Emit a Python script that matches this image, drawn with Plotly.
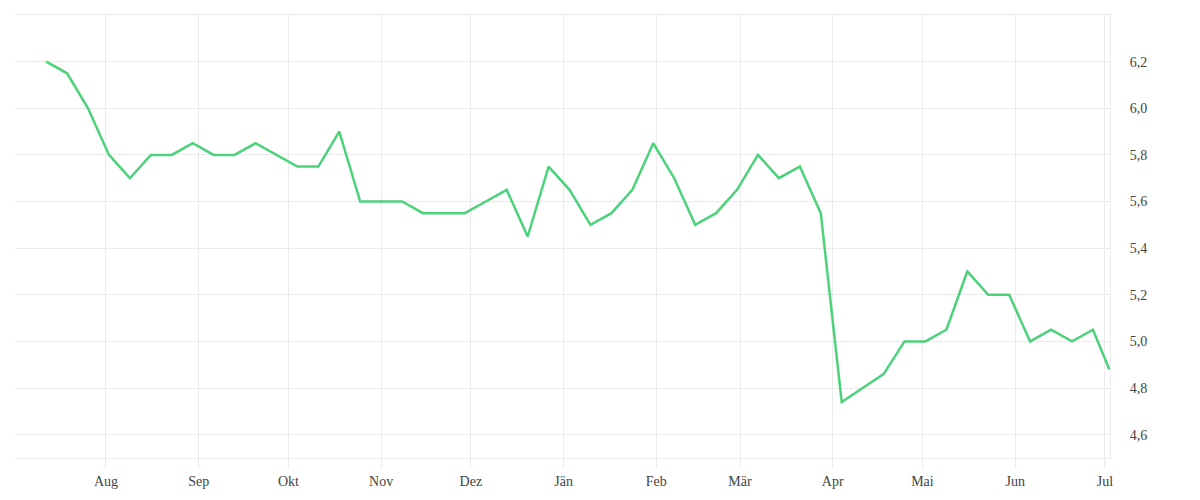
import plotly.graph_objects as go
import pandas as pd

# Weekly observations
start_date = "2022-07-12"
weekly_values = [
    6.2, 6.15, 6.0, 5.8, 5.7, 5.8, 5.8, 5.85, 5.8, 5.8,
    5.85, 5.8, 5.75, 5.75, 5.9, 5.6, 5.6, 5.6, 5.55, 5.55,
    5.55, 5.6, 5.65, 5.45, 5.75, 5.65, 5.5, 5.55, 5.65, 5.85,
    5.7, 5.5, 5.55, 5.65, 5.8, 5.7, 5.75, 5.55, 4.74, 4.8,
    4.86, 5.0, 5.0, 5.05, 5.3, 5.2, 5.2, 5.0, 5.05, 5.0,
    5.05,
]
last_date = "2023-07-02 12:00"
last_value = 4.88

month_ticks = ["2022-08-01", "2022-09-01", "2022-10-01", "2022-11-01", "2022-12-01",
               "2023-01-01", "2023-02-01", "2023-03-01", "2023-04-01", "2023-05-01",
               "2023-06-01", "2023-07-01"]
month_labels = ["Aug", "Sep", "Okt", "Nov", "Dez", "Jän", "Feb", "Mär", "Apr", "Mai", "Jun", "Jul"]

y_ticks = [4.6, 4.8, 5.0, 5.2, 5.4, 5.6, 5.8, 6.0, 6.2]
y_labels = ["4,6", "4,8", "5,0", "5,2", "5,4", "5,6", "5,8", "6,0", "6,2"]

dates = list(pd.date_range(start_date, periods=len(weekly_values), freq="7D")) + [pd.Timestamp(last_date)]
values = weekly_values + [last_value]

grid = "#ebebeb"
font_fam = "Liberation Serif, DejaVu Serif, serif"

fig = go.Figure()
fig.add_trace(go.Scatter(
    x=dates, y=values, mode="lines",
    line=dict(color="#4cd27a", width=2.5),
    hoverinfo="x+y",
))

fig.update_layout(
    width=1200, height=500,
    margin=dict(l=7, r=98, t=7, b=50),
    paper_bgcolor="white", plot_bgcolor="white",
    showlegend=False,
    font=dict(family=font_fam, size=14, color="#444"),
)
fig.update_xaxes(
    range=["2022-07-01 14:00", "2023-07-02 17:00"],
    tickvals=month_ticks, ticktext=month_labels,
    showgrid=True, gridcolor=grid, gridwidth=1,
    ticks="outside", ticklen=10, tickcolor=grid, tickwidth=1,
    showline=True, linecolor=grid, linewidth=1, mirror=True,
    zeroline=False,
    tickfont=dict(family=font_fam, size=14, color="#444"),
)
fig.update_yaxes(
    side="right", range=[4.5, 6.4],
    tickvals=y_ticks, ticktext=y_labels,
    showgrid=True, gridcolor=grid, gridwidth=1,
    ticks="", ticklabelstandoff=16,
    showline=True, linecolor=grid, linewidth=1,
    zeroline=False,
    tickfont=dict(family=font_fam, size=14, color="#444"),
)

fig.write_html("out.html")
